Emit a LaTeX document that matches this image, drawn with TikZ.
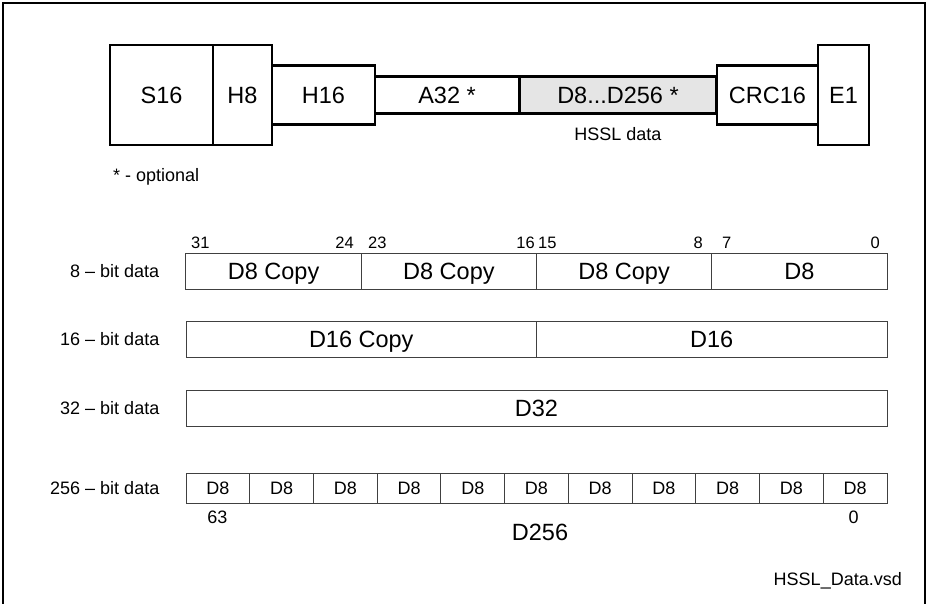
\documentclass[tikz,border=0pt]{standalone}
\usepackage{fontspec}
\setmainfont{Liberation Sans}
\usetikzlibrary{positioning}

\begin{document}
\begin{tikzpicture}[
  x=1pt, y=-1pt,
  every node/.style={font=\fontsize{18}{20}\selectfont, inner sep=0pt,
    text height=13pt, text depth=0pt},
  big/.style={font=\fontsize{23.5}{26}\selectfont, text height=17pt},
  bitno/.style={font=\fontsize{16.5}{18}\selectfont},
  field/.style={draw, line width=2.6pt, big},
  seg/.style={draw=black!75, line width=1pt, big, minimum height=36pt},
  cell/.style={draw=black!75, line width=1pt, minimum height=30pt,
    minimum width=63.727pt},
  rowlabel/.style={left=26pt of #1},
]
\useasboundingbox (0,0) rectangle (927,603);
\draw[line width=1.6pt] (3,606) -- (3,3) -- (925,3) -- (925,606);

% frame
\node[field, minimum width=103pt, minimum height=100pt] (S16) at (161.5, 95) {S16};
\node[field, minimum width=59pt, minimum height=100pt] (H8) at (242.5, 95) {H8};
\node[field, minimum width=103pt, minimum height=59pt] (H16) at (323.5, 95) {H16};
\node[field, minimum width=144pt, minimum height=37pt] (A32) at (447, 95) {A32 *};
\node[field, fill=gray!20, minimum width=197pt, minimum height=37pt] (Data)
  at (618, 95) {D8...D256 *};
\node[field, minimum width=101pt, minimum height=59pt] (CRC) at (767.5, 95) {CRC16};
\node[field, minimum width=51pt, minimum height=100pt] (E1) at (843.5, 95) {E1};
\node[anchor=base] (DataLbl) at (618, 140) {HSSL data};
\node[anchor=base west] (Opt) at (113, 181) {* - optional};

% 8 bit
\node[seg, minimum width=175.25pt] (R8a) at (273.6, 271) {D8 Copy};
\node[seg, minimum width=175.25pt] (R8b) at (448.9, 271) {D8 Copy};
\node[seg, minimum width=175.25pt] (R8c) at (624.1, 271) {D8 Copy};
\node[seg, minimum width=175.25pt] (R8d) at (799.4, 271) {D8};
\node[rowlabel=R8a] (L8) {8 – bit data};
\node[bitno, anchor=base west] (b31) at (191, 248) {31};
\node[bitno, anchor=base east] (b24) at (354, 248) {24};
\node[bitno, anchor=base west] (b23) at (368, 248) {23};
\node[bitno, anchor=base east] (b16) at (535, 248) {16};
\node[bitno, anchor=base west] (b15) at (538, 248) {15};
\node[bitno, anchor=base east] (b8) at (703, 248) {8};
\node[bitno, anchor=base west] (b7) at (722, 248) {7};
\node[bitno, anchor=base east] (b0) at (880, 248) {0};

% 16 bit
\node[seg, minimum width=350.5pt] (R16a) at (361.25, 339) {D16 Copy};
\node[seg, minimum width=350.5pt] (R16b) at (711.75, 339) {D16};
\node[rowlabel=R16a] (L16) {16 – bit data};

% 32 bit
\node[seg, minimum width=701pt] (R32) at (536.5, 408) {D32};
\node[rowlabel=R32] (L32) {32 – bit data};

% 256 bit
\foreach \i in {0,...,10}
  \node[cell] (C\i) at ({186 + 63.727*(\i + 0.5)}, 488) {D8};
\node[rowlabel=C0] (L256) {256 – bit data};
\node[anchor=base] (b63) at (217.5, 523) {63};
\node[anchor=base] (bz) at (853.5, 523) {0};
\node[big, anchor=base] (D256) at (540, 540) {D256};

\node[anchor=base east] (File) at (902, 585) {HSSL\_Data.vsd};
\end{tikzpicture}
\end{document}
